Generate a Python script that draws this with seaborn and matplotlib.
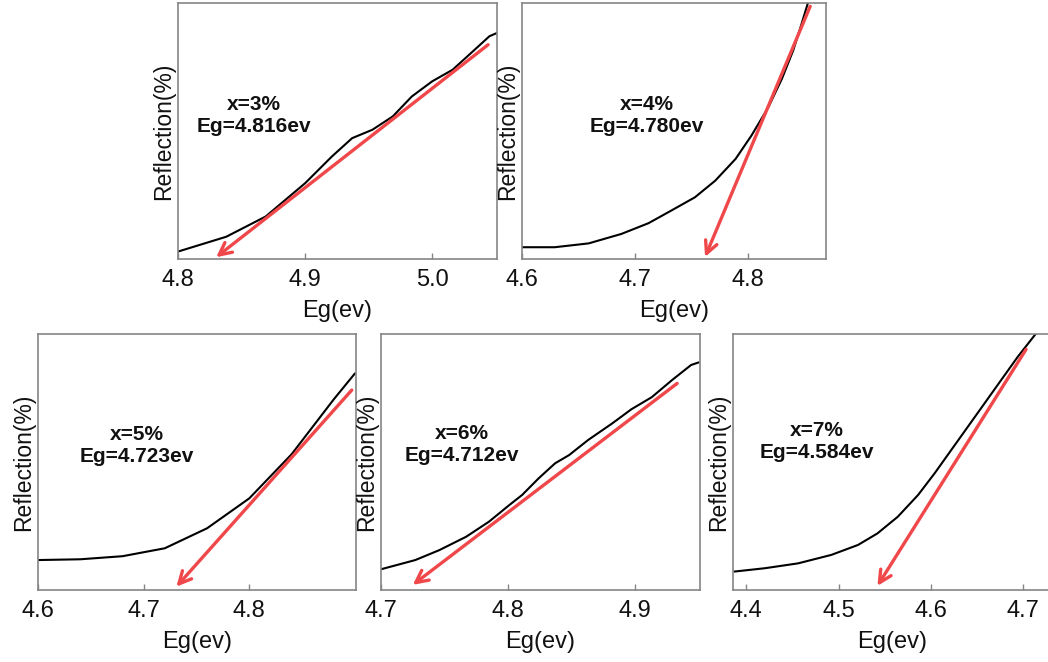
import numpy as np
import pandas as pd
import matplotlib
matplotlib.use("Agg")
import matplotlib.pyplot as plt
import seaborn as sns

# ---- data: photon energy (eV) vs. reflection (arbitrary %, 0-100 of axis) ----
x3_eg = [4.800, 4.838, 4.869, 4.900, 4.921, 4.937, 4.953, 4.969, 4.984, 5.000, 5.016, 5.032, 5.045, 5.051]
x3_refl = [2.9, 8.7, 16.6, 29.6, 40.0, 47.2, 50.5, 55.7, 63.5, 69.4, 73.9, 81.1, 87.0, 88.3]

x4_eg = [4.600, 4.629, 4.659, 4.688, 4.712, 4.732, 4.753, 4.771, 4.789, 4.803, 4.818, 4.830, 4.840, 4.847, 4.853]
x4_refl = [4.6, 4.6, 6.1, 9.8, 14.0, 18.9, 24.1, 30.6, 39.1, 48.2, 59.3, 70.4, 81.5, 91.3, 100.0]

x5_eg = [4.60, 4.64, 4.68, 4.72, 4.76, 4.80, 4.84, 4.88, 4.90]
x5_refl = [11.7, 12.0, 13.2, 16.3, 24.1, 35.8, 53.0, 74.5, 84.6]

x6_eg = [4.700, 4.727, 4.746, 4.767, 4.785, 4.801, 4.811, 4.824, 4.837, 4.848, 4.863, 4.882, 4.897, 4.913, 4.929, 4.944, 4.950]
x6_refl = [8.1, 11.7, 15.6, 20.8, 26.7, 33.2, 37.1, 43.6, 49.5, 52.7, 58.6, 65.1, 70.6, 75.3, 82.0, 87.9, 88.9]

x7_eg = [4.387, 4.420, 4.456, 4.492, 4.521, 4.542, 4.564, 4.586, 4.604, 4.622, 4.640, 4.658, 4.676, 4.694, 4.714]
x7_refl = [7.2, 8.5, 10.4, 13.7, 17.6, 22.1, 28.6, 37.1, 45.6, 54.7, 63.8, 72.9, 82.0, 91.1, 100.3]

# tangent extrapolation arrows: (start x, start y) -> (tip x, tip y)
tangent3 = [(5.044, 83.7), (4.830, 0.7)]
tangent4 = [(4.855, 98.7), (4.762, 0.8)]
tangent5 = [(4.897, 78.1), (4.731, 1.3)]
tangent6 = [(4.933, 80.7), (4.725, 2.0)]
tangent7 = [(4.703, 94.0), (4.542, 1.6)]

labels = ["x=3%\nEg=4.816ev", "x=4%\nEg=4.780ev", "x=5%\nEg=4.723ev",
          "x=6%\nEg=4.712ev", "x=7%\nEg=4.584ev"]

xticks = [[4.8, 4.9, 5.0], [4.6, 4.7, 4.8], [4.6, 4.7, 4.8],
          [4.7, 4.8, 4.9], [4.4, 4.5, 4.6, 4.7]]
xlims = [(4.8, 5.051), (4.6, 4.869), (4.6, 4.901), (4.7, 4.951), (4.3856, 4.730)]

sns.set_theme(style="white")
plt.rcParams["font.family"] = ["Liberation Sans", "DejaVu Sans"]
plt.rcParams["text.color"] = "black"
plt.rcParams["axes.labelcolor"] = "black"
plt.rcParams["xtick.color"] = "black"

W, H = 1048, 662
fig = plt.figure(figsize=(W / 100, H / 100), dpi=100)

# axes boxes in pixels: left, top, right, bottom
boxes = [(178, 3, 497, 259), (522, 3, 826, 259),
         (38, 334, 356, 590), (381, 334, 700, 590), (733, 334, 1051, 590)]
text_pos = [(0.238, 0.5625), (0.411, 0.559), (0.311, 0.5625), (0.254, 0.568), (0.263, 0.58)]

series = [(x3_eg, x3_refl, tangent3), (x4_eg, x4_refl, tangent4), (x5_eg, x5_refl, tangent5),
          (x6_eg, x6_refl, tangent6), (x7_eg, x7_refl, tangent7)]

spine_col = "#858585"
red = "#f0484a"

for i, ((xe, yr, tan), box) in enumerate(zip(series, boxes)):
    l, t, r, b = box
    ax = fig.add_axes([l / W, (H - b) / H, (r - l) / W, (b - t) / H])
    df = pd.DataFrame({"Eg": xe, "Refl": yr})
    sns.lineplot(data=df, x="Eg", y="Refl", ax=ax, color="black", lw=1.5,
                 sort=False, estimator=None)
    (x0, y0), (x1, y1) = tan
    ax.annotate("", xy=(x1, y1), xytext=(x0, y0),
                arrowprops=dict(arrowstyle="->", color=red, lw=2.4,
                                mutation_scale=22, shrinkA=0, shrinkB=0))
    ax.set_xlim(*xlims[i])
    ax.set_ylim(0, 100)
    ax.set_xticks(xticks[i])
    ax.set_xticklabels([f"{v:.1f}" for v in xticks[i]])
    ax.set_yticks([])
    ax.tick_params(axis="x", direction="in", length=4, width=1.0, color=spine_col,
                   labelcolor="#111111", labelsize=17, pad=7, bottom=True)
    ax.set_xlabel("Eg(ev)", fontsize=17, labelpad=7, color="#111111")
    ax.set_ylabel("Reflection(%)", fontsize=16.5, labelpad=2, color="#111111")
    for s in ax.spines.values():
        s.set_color(spine_col)
        s.set_linewidth(1.2)
    tx, ty = text_pos[i]
    ax.text(tx, ty, labels[i], transform=ax.transAxes, ha="center", va="center",
            fontsize=15, fontweight="bold", linespacing=1.2, color="#111111")

fig.savefig("out.png", dpi=100)
